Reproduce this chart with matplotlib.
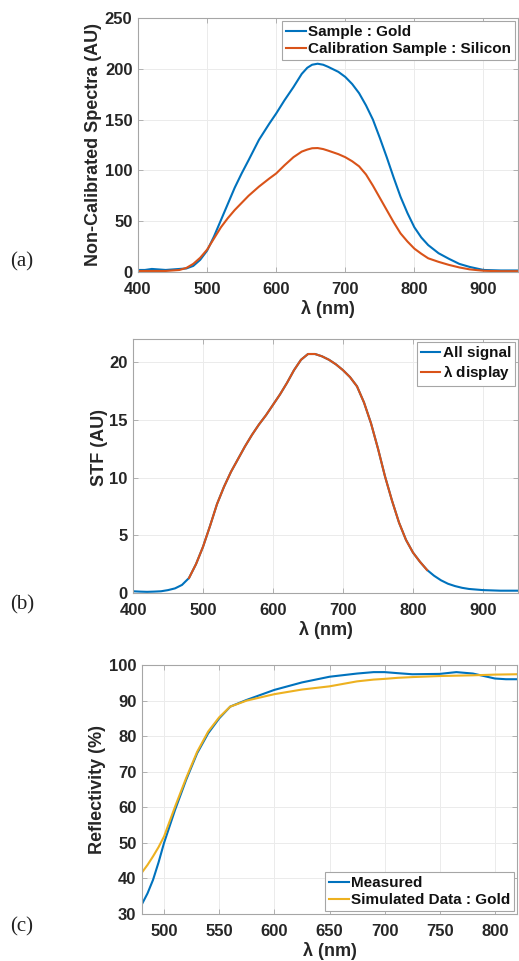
import numpy as np
import matplotlib
matplotlib.use("Agg")
import matplotlib.pyplot as plt

plt.rcParams['font.family'] = ['Liberation Sans', 'DejaVu Sans']
plt.rcParams['font.weight'] = 'bold'
plt.rcParams['axes.labelweight'] = 'bold'
plt.rcParams['mathtext.default'] = 'regular'

# ── (a) raw spectra ────────────────────────────────────────────────
wl_a = [400, 410, 420, 430, 440, 450, 460, 470, 480, 490, 500, 510, 520, 530,
        540, 550, 560, 575, 590, 600, 612, 625, 637, 645, 652, 660, 668, 675,
        690, 700, 710, 720, 730, 740, 750, 760, 770, 780, 790, 800, 810, 820,
        835, 850, 865, 880, 900, 925, 950]
gold = [2, 2, 3, 2.5, 2, 2.5, 3, 3.5, 6, 12, 21, 35, 51, 67, 83, 97, 110, 130,
        146, 156, 169, 182, 195, 201, 204, 205, 204, 202, 197, 192, 185, 176,
        164, 150, 132, 113, 93, 74, 58, 44, 34, 26.5, 18.5, 13, 8, 5, 2, 1.5,
        1.5]
silicon = [1, 1, 1, 1, 1, 1.5, 2, 4, 8, 14, 22, 33, 44, 53, 61, 68, 75, 84,
           92, 97, 105, 113, 118.5, 120.5, 121.8, 122, 121, 119.5, 116, 113,
           109, 104, 96, 85, 73, 61, 49, 38, 30, 23, 18, 13.5, 10, 7, 4.5,
           2.6, 1.2, 0.8, 0.8]

# ── (b) STF ────────────────────────────────────────────────────────
wl_b = [400, 410, 420, 430, 440, 450, 460, 470, 480, 490, 500, 510, 520, 530,
        540, 550, 560, 570, 580, 590, 600, 610, 620, 630, 640, 650, 660, 670,
        680, 690, 700, 710, 720, 730, 740, 750, 760, 770, 780, 790, 800, 810,
        820, 830, 840, 850, 860, 870, 880, 900, 925, 950]
stf = [0.15, 0.12, 0.1, 0.12, 0.15, 0.25, 0.4, 0.7, 1.3, 2.5, 4.0, 5.8, 7.7,
       9.2, 10.5, 11.6, 12.7, 13.7, 14.6, 15.4, 16.3, 17.2, 18.2, 19.3, 20.2,
       20.7, 20.7, 20.5, 20.2, 19.8, 19.3, 18.7, 17.9, 16.5, 14.7, 12.5, 10.1,
       8.0, 6.1, 4.6, 3.5, 2.7, 2.0, 1.5, 1.1, 0.8, 0.6, 0.45, 0.35, 0.25,
       0.2, 0.2]
disp_lo, disp_hi = 480, 820

# ── (c) reflectivity ───────────────────────────────────────────────
wl_c = [480, 485, 490, 495, 500, 510, 520, 530, 540, 550, 560, 575, 600, 625,
        650, 675, 690, 700, 712, 725, 750, 765, 780, 790, 800, 810, 820]
measured = [32.8, 35.8, 39.6, 44.5, 50.0, 59.3, 67.7, 75.2, 80.8, 85.0, 88.3,
            90.2, 93.0, 95.1, 96.7, 97.6, 98.0, 98.0, 97.7, 97.4, 97.5, 98.0,
            97.6, 96.9, 96.2, 96.0, 96.0]
simulated = [41.7, 43.8, 46.2, 48.8, 51.8, 60.2, 68.2, 75.6, 81.3, 85.3, 88.3,
             90.0, 91.8, 93.1, 94.0, 95.4, 95.9, 96.1, 96.4, 96.6, 96.9, 97.0,
             97.1, 97.2, 97.3, 97.35, 97.4]

BLUE = '#0072BD'
ORANGE = '#D95319'
YELLOW = '#EDB120'
W, H = 519, 961


def make_axes(fig, left, top, right, bottom):
    ax = fig.add_axes([left / W, 1 - bottom / H, (right - left) / W, (bottom - top) / H])
    for s in ax.spines.values():
        s.set_color('#a6a6a6')
        s.set_linewidth(0.8)
    ax.tick_params(direction='in', length=3.5, width=0.6, color='#a6a6a6',
                   labelsize=12, labelcolor='#262626', top=True, right=True)
    ax.tick_params(axis='x', pad=7)
    ax.tick_params(axis='y', pad=4)
    ax.grid(True, color='#ebebeb', linewidth=0.7)
    ax.set_axisbelow(True)
    return ax


def style_legend(ax, loc):
    leg = ax.legend(loc=loc, fontsize=11, handlelength=1.3, handletextpad=0.15,
                    borderpad=0.25, labelspacing=0.2, borderaxespad=0.2,
                    fancybox=False, framealpha=1)
    leg.get_frame().set_edgecolor('#a6a6a6')
    leg.get_frame().set_linewidth(0.8)
    for t in leg.get_texts():
        t.set_color('#111111')
    return leg


fig = plt.figure(figsize=(W / 100, H / 100), dpi=100)
xlab = r'$\lambda$ (nm)'
lab_kw = dict(fontsize=13, color='#262626', fontweight='bold')

# panel (a)
ax1 = make_axes(fig, 138, 18, 518, 272)
ax1.plot(wl_a, gold, color=BLUE, lw=1.5, label='Sample : Gold')
ax1.plot(wl_a, silicon, color=ORANGE, lw=1.5, label='Calibration Sample : Silicon')
ax1.set_xlim(400, 950)
ax1.set_ylim(0, 250)
ax1.set_xticks([400, 500, 600, 700, 800, 900])
ax1.set_yticks([0, 50, 100, 150, 200, 250])
ax1.set_ylabel('Non-Calibrated Spectra (AU)', labelpad=2, **lab_kw)
ax1.set_xlabel(xlab, labelpad=1, **lab_kw)
style_legend(ax1, 'upper right')

# panel (b)
ax2 = make_axes(fig, 133, 339, 518, 593)
wl_b_arr = np.array(wl_b)
stf_arr = np.array(stf)
mask = (wl_b_arr >= disp_lo) & (wl_b_arr <= disp_hi)
ax2.plot(wl_b_arr, stf_arr, color=BLUE, lw=1.5, label='All signal')
ax2.plot(wl_b_arr[mask], stf_arr[mask], color=ORANGE, lw=1.5, label=r'$\lambda$ display')
ax2.set_xlim(400, 950)
ax2.set_ylim(0, 22)
ax2.set_xticks([400, 500, 600, 700, 800, 900])
ax2.set_yticks([0, 5, 10, 15, 20])
ax2.set_ylabel('STF (AU)', **lab_kw)
ax2.yaxis.set_label_coords(-0.064, 0.571)
ax2.set_xlabel(xlab, labelpad=1, **lab_kw)
style_legend(ax2, 'upper right')

# panel (c)
ax3 = make_axes(fig, 142, 665, 517, 914)
ax3.plot(wl_c, measured, color=BLUE, lw=1.5, label='Measured')
ax3.plot(wl_c, simulated, color=YELLOW, lw=1.5, label='Simulated Data : Gold')
ax3.set_xlim(480, 820)
ax3.set_ylim(30, 100)
ax3.set_xticks([500, 550, 600, 650, 700, 750, 800])
ax3.set_yticks(range(30, 101, 10))
ax3.set_ylabel('Reflectivity (%)', labelpad=2, **lab_kw)
ax3.set_xlabel(xlab, labelpad=1, **lab_kw)
style_legend(ax3, 'lower right')

# panel letters
for lab, y in [('(a)', 262), ('(b)', 605), ('(c)', 927)]:
    fig.text(10 / W, 1 - y / H, lab, family='Liberation Serif', fontweight='normal',
             fontsize=15, va='center', ha='left', color='#222222')

fig.savefig('out.png', dpi=100)
